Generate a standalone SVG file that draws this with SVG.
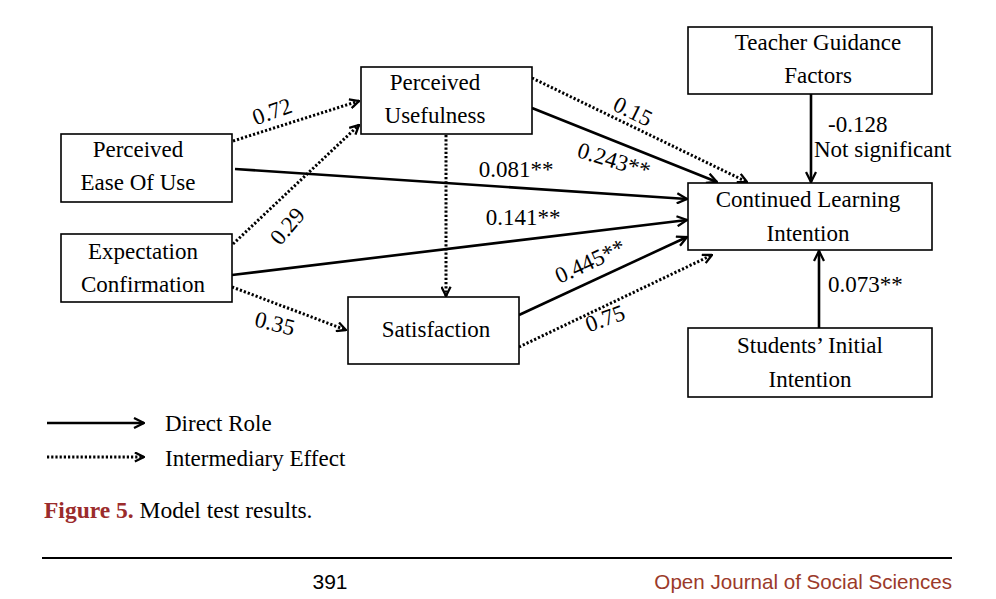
<svg xmlns="http://www.w3.org/2000/svg" width="996" height="599" viewBox="0 0 996 599">
<defs>
<marker id="ah" viewBox="0 0 12 12" refX="11" refY="6" markerWidth="12" markerHeight="12" markerUnits="userSpaceOnUse" orient="auto">
<path d="M1,1 L11,6 L1,11" fill="none" stroke="#000" stroke-width="2.3"/>
</marker>
<marker id="ahd" viewBox="0 0 12 12" refX="11" refY="6" markerWidth="11" markerHeight="11" markerUnits="userSpaceOnUse" orient="auto">
<path d="M1,1 L11,6 L1,11" fill="none" stroke="#000" stroke-width="2.5"/>
</marker>
</defs>
<style>
.box{fill:#fff;stroke:#000;stroke-width:1.6}
.t{font-family:"Liberation Serif","Times New Roman",serif;font-size:23px;fill:#000;text-anchor:middle}
.l{font-family:"Liberation Serif","Times New Roman",serif;font-size:23px;fill:#000}
.s{fill:none;stroke:#000;stroke-width:2.6;marker-end:url(#ah)}
.d{fill:none;stroke:#000;stroke-width:3;stroke-dasharray:2.2 2;marker-end:url(#ahd)}
</style>
<rect width="996" height="599" fill="#fff"/>
<g id="connectors">
<line class="d" x1="233" y1="141" x2="359" y2="101"/>
<line class="d" x1="233" y1="244" x2="359" y2="125"/>
<line class="s" x1="235" y1="169" x2="687" y2="199"/>
<line class="s" x1="232" y1="275" x2="687" y2="220"/>
<line class="d" x1="232" y1="287" x2="346" y2="330"/>
<line class="s" x1="532" y1="108" x2="717" y2="182"/>
<line class="d" x1="532" y1="78" x2="747" y2="182"/>
<line class="d" x1="446" y1="135" x2="446" y2="296"/>
<line class="s" x1="519" y1="315" x2="687" y2="237"/>
<line class="d" x1="519" y1="347" x2="712" y2="255"/>
<line class="s" x1="811" y1="94" x2="811" y2="182"/>
<line class="s" x1="819" y1="328" x2="819" y2="251"/>
</g>
<g id="labels">
<text class="t" transform="translate(272,111) rotate(-20)" dy="0.35em">0.72</text>
<text class="t" transform="translate(287,226) rotate(-50)" dy="0.35em">0.29</text>
<text class="t" transform="translate(275,323) rotate(14)" dy="0.35em">0.35</text>
<text class="t" x="516" y="177">0.081**</text>
<text class="t" x="523" y="225">0.141**</text>
<text class="t" transform="translate(633,111) rotate(26)" dy="0.35em">0.15</text>
<text class="t" transform="translate(614,160) rotate(17)" dy="0.35em">0.243**</text>
<text class="t" transform="translate(590,261) rotate(-25)" dy="0.35em">0.445**</text>
<text class="t" transform="translate(605,318) rotate(-20)" dy="0.35em">0.75</text>
<text class="l" x="828" y="132">-0.128</text>
<text class="l" x="814" y="157">Not significant</text>
<text class="l" x="828" y="292">0.073**</text>
</g>
<g id="peou">
<rect class="box" x="61" y="134" width="171" height="68"/>
<text class="t" x="138" y="157">Perceived</text>
<text class="t" x="138" y="190">Ease Of Use</text>
</g>
<g id="ec">
<rect class="box" x="61" y="234" width="171" height="68"/>
<text class="t" x="143" y="259">Expectation</text>
<text class="t" x="143" y="292">Confirmation</text>
</g>
<g id="pu">
<rect class="box" x="361" y="67" width="171" height="67"/>
<text class="t" x="435" y="90">Perceived</text>
<text class="t" x="435" y="123">Usefulness</text>
</g>
<g id="sat">
<rect class="box" x="348" y="297" width="171" height="67"/>
<text class="t" x="436" y="337">Satisfaction</text>
</g>
<g id="tgf">
<rect class="box" x="688" y="27" width="244" height="67"/>
<text class="t" x="818" y="50">Teacher Guidance</text>
<text class="t" x="818" y="83">Factors</text>
</g>
<g id="cli">
<rect class="box" x="688" y="183" width="244" height="67"/>
<text class="t" x="808" y="207">Continued Learning</text>
<text class="t" x="808" y="241">Intention</text>
</g>
<g id="sii">
<rect class="box" x="688" y="328" width="244" height="69"/>
<text class="t" x="810" y="353">Students’ Initial</text>
<text class="t" x="810" y="387">Intention</text>
</g>
<g id="legend">
<line class="s" x1="47" y1="423" x2="144" y2="423"/>
<line class="d" x1="47" y1="457" x2="144" y2="457"/>
<text class="l" x="165" y="431">Direct Role</text>
<text class="l" x="165" y="466">Intermediary Effect</text>
</g>
<g id="caption">
<text x="44" y="518" font-family="'Liberation Serif','Times New Roman',serif" font-size="23.5"><tspan fill="#9b2c2c" font-weight="bold">Figure 5.</tspan><tspan fill="#000"> Model test results.</tspan></text>
</g>
<g id="footer">
<line x1="42" y1="558" x2="952" y2="558" stroke="#000" stroke-width="2"/>
<text x="330" y="589" font-family="'Liberation Sans',Arial,sans-serif" font-size="21" text-anchor="middle" fill="#000">391</text>
<text x="952" y="589" font-family="'Liberation Sans',Arial,sans-serif" font-size="20.6" text-anchor="end" fill="#9b3a2a">Open Journal of Social Sciences</text>
</g>
</svg>
